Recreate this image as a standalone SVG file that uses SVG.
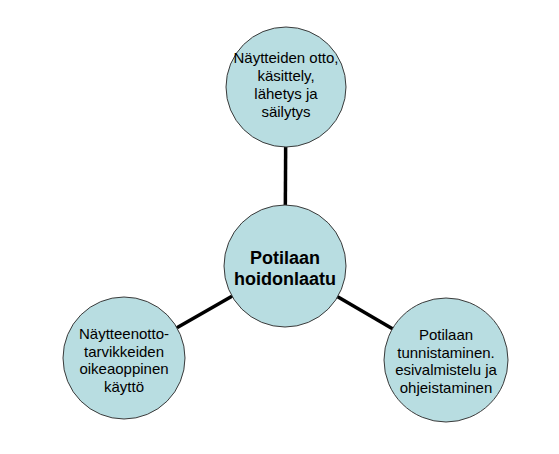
<svg xmlns="http://www.w3.org/2000/svg" width="559" height="454" viewBox="0 0 559 454">
<style>
.node{fill:#b8dde1;stroke:#3a3a3a;stroke-width:1}
.conn{stroke:#000;stroke-width:3.5;fill:none}
.t{font-family:"Liberation Sans",Arial,sans-serif;font-size:15px;fill:#000;text-anchor:middle}
.tb{font-family:"Liberation Sans",Arial,sans-serif;font-size:18px;font-weight:bold;fill:#000;text-anchor:middle}
</style>
<rect width="559" height="454" fill="#fff"/>
<g id="connectors">
<line class="conn" x1="285" y1="266" x2="286" y2="87"/>
<line class="conn" x1="285" y1="266" x2="124" y2="358"/>
<line class="conn" x1="285" y1="266" x2="446" y2="360"/>
</g>
<g id="node-top">
<circle class="node" cx="286" cy="87" r="60"/>
<text class="t" x="286" y="63">Näytteiden otto,</text>
<text class="t" x="286" y="81">käsittely,</text>
<text class="t" x="286" y="99">lähetys ja</text>
<text class="t" x="286" y="117">säilytys</text>
</g>
<g id="node-center">
<circle class="node" cx="285" cy="266" r="61"/>
<text class="tb" x="285" y="264">Potilaan</text>
<text class="tb" x="285" y="285">hoidonlaatu</text>
</g>
<g id="node-left">
<circle class="node" cx="124" cy="358" r="61"/>
<text class="t" x="124" y="339">Näytteenotto-</text>
<text class="t" x="124" y="357">tarvikkeiden</text>
<text class="t" x="124" y="374">oikeaoppinen</text>
<text class="t" x="124" y="392">käyttö</text>
</g>
<g id="node-right">
<circle class="node" cx="446" cy="360" r="62"/>
<text class="t" x="446" y="340">Potilaan</text>
<text class="t" x="446" y="358">tunnistaminen.</text>
<text class="t" x="446" y="375">esivalmistelu ja</text>
<text class="t" x="446" y="393">ohjeistaminen</text>
</g>
</svg>
